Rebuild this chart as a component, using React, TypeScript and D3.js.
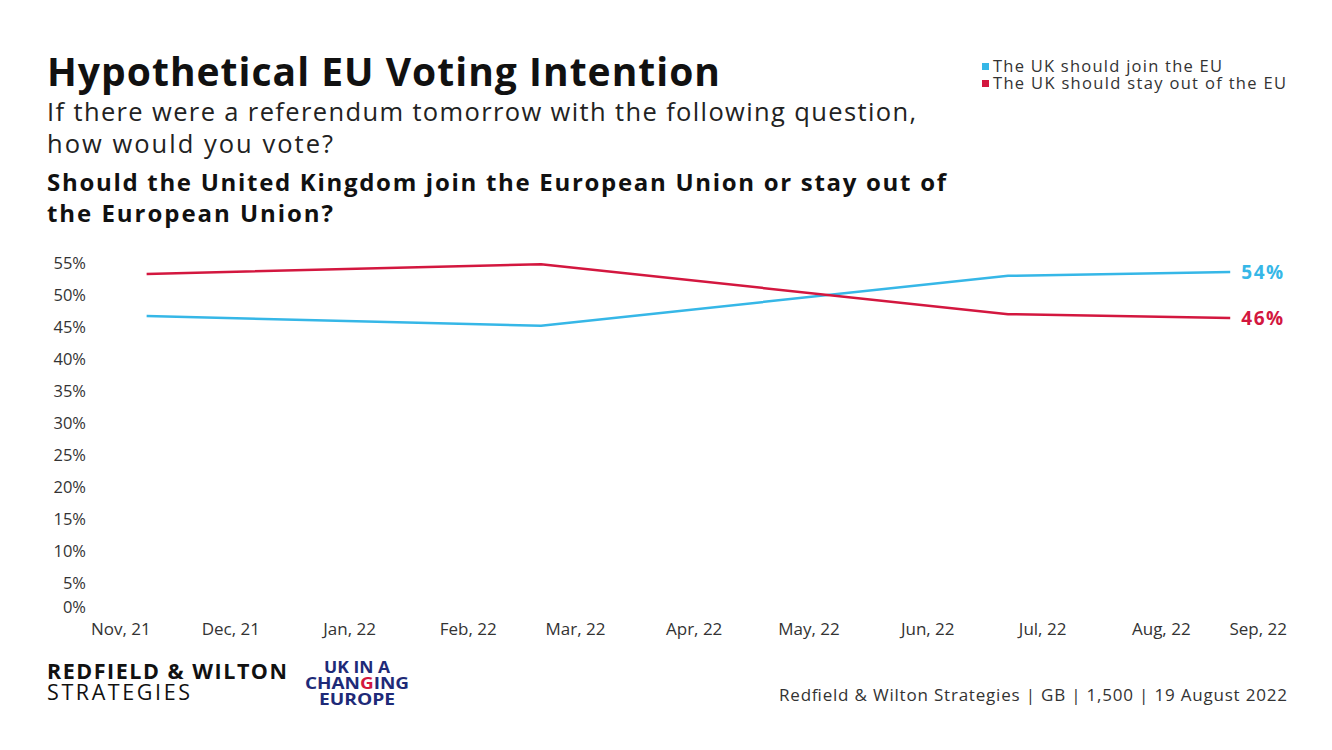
import React from "react";
import * as d3 from "d3";

const surveyDates = ["2021-11-09", "2022-02-20", "2022-06-22", "2022-08-19"];
const joinEU = [46.7, 45.2, 53.0, 53.6];
const stayOut = [53.3, 54.8, 47.0, 46.4];
const yTicks = [0, 5, 10, 15, 20, 25, 30, 35, 40, 45, 50, 55];
const monthTicks = [
  "2021-11-01", "2021-12-01", "2022-01-01", "2022-02-01", "2022-03-01", "2022-04-01",
  "2022-05-01", "2022-06-01", "2022-07-01", "2022-08-01", "2022-09-01",
];
const monthLabels = [
  "Nov, 21", "Dec, 21", "Jan, 22", "Feb, 22", "Mar, 22", "Apr, 22",
  "May, 22", "Jun, 22", "Jul, 22", "Aug, 22", "Sep, 22",
];
const endLabels = ["54%", "46%"];
const seriesNames = ["The UK should join the EU", "The UK should stay out of the EU"];

const BLUE = "#36b7e7";
const RED = "#d3173f";
const FONT = "'Open Sans', 'Noto Sans', sans-serif";

export default function App() {
  const parse = d3.timeParse("%Y-%m-%d");
  const x = d3
    .scaleTime()
    .domain([parse("2021-11-01")!, parse("2022-09-01")!])
    .range([116, 1280]);
  const y = d3.scaleLinear().domain([0, 55]).range([615, 263]);

  const series = [
    { name: seriesNames[0], values: joinEU, color: BLUE, label: endLabels[0], legendLen: 229 },
    { name: seriesNames[1], values: stayOut, color: RED, label: endLabels[1], legendLen: 293 },
  ];

  const line = d3
    .line<[Date, number]>()
    .x((d) => x(d[0]))
    .y((d) => y(d[1]));

  const dates = surveyDates.map((s) => parse(s)!);
  const lastDate = dates[dates.length - 1];

  return (
    <svg
      width={1332}
      height={750}
      style={{ position: "absolute", left: 0, top: 0, background: "#fff" }}
      fontFamily={FONT}
    >
      <rect width={1332} height={750} fill="#fff" />
      {/* Titles */}
      <text x={47} y={86} fontSize={39} fontWeight={700} fill="#111" textLength={673} lengthAdjust="spacing">
        Hypothetical EU Voting Intention
      </text>
      <text x={47} y={121} fontSize={25.5} fill="#222" textLength={869} lengthAdjust="spacing">
        If there were a referendum tomorrow with the following question,
      </text>
      <text x={47} y={153} fontSize={25.5} fill="#222" textLength={286} lengthAdjust="spacing">
        how would you vote?
      </text>
      <text x={47} y={191} fontSize={24} fontWeight={700} fill="#111" textLength={899} lengthAdjust="spacing">
        Should the United Kingdom join the European Union or stay out of
      </text>
      <text x={47} y={222} fontSize={24} fontWeight={700} fill="#111" textLength={286} lengthAdjust="spacing">
        the European Union?
      </text>

      {/* Legend */}
      {series.map((s, i) => (
        <g key={s.name} transform={`translate(982, ${67 + i * 17})`}>
          <rect x={0} y={-4} width={7} height={7} fill={s.color} />
          <text x={11} y={5} fontSize={16.5} fill="#333" textLength={s.legendLen} lengthAdjust="spacing">
            {s.name}
          </text>
        </g>
      ))}

      {/* Y axis labels */}
      {yTicks.map((t) => (
        <text
          key={t}
          x={86}
          y={y(t) + (t === 0 ? -8 : 0)}
          dy="0.35em"
          textAnchor="end"
          fontSize={16.5}
          fill="#333"
        >
          {t}%
        </text>
      ))}

      {/* X axis labels */}
      {monthTicks.map((m, i) => {
        const px = x(parse(m)!);
        const first = i === 0;
        const last = i === monthTicks.length - 1;
        return (
          <text
            key={m}
            x={first ? 91 : last ? 1287 : px}
            y={629}
            dy="0.35em"
            textAnchor={first ? "start" : last ? "end" : "middle"}
            fontSize={17}
            fill="#333"
          >
            {monthLabels[i]}
          </text>
        );
      })}

      {/* Lines */}
      {series.map((s) => (
        <path
          key={s.name}
          d={line(dates.map((d, i) => [d, s.values[i]] as [Date, number])) || ""}
          fill="none"
          stroke={s.color}
          strokeWidth={2.5}
          strokeLinejoin="round"
        />
      ))}

      {/* End labels */}
      {series.map((s) => (
        <text
          key={s.label}
          x={x(lastDate) + 11}
          y={y(s.values[s.values.length - 1])}
          dy="0.35em"
          fontSize={19}
          fontWeight={700}
          fill={s.color}
          textLength={42}
          lengthAdjust="spacing"
        >
          {s.label}
        </text>
      ))}

      {/* Footer left */}
      <text x={47} y={679} fontSize={21.5} fontWeight={700} fill="#111" textLength={240} lengthAdjust="spacing">
        REDFIELD &amp; WILTON
      </text>
      <text x={47} y={700} fontSize={21.5} fill="#111" textLength={143} lengthAdjust="spacing">
        STRATEGIES
      </text>
      <g fontSize={16} fontWeight={700} fill="#1e2a78" textAnchor="middle">
        <text x={357} y={673} textLength={66} lengthAdjust="spacingAndGlyphs">UK IN A</text>
        <text x={357} y={689} textLength={104} lengthAdjust="spacingAndGlyphs">
          CHAN<tspan fill="#d3173f">G</tspan>ING
        </text>
        <text x={357} y={705} textLength={76} lengthAdjust="spacingAndGlyphs">EUROPE</text>
      </g>

      {/* Source */}
      <text x={779} y={701} fontSize={17} fill="#333" textLength={508} lengthAdjust="spacing">
        Redfield &amp; Wilton Strategies | GB | 1,500 | 19 August 2022
      </text>
    </svg>
  );
}
